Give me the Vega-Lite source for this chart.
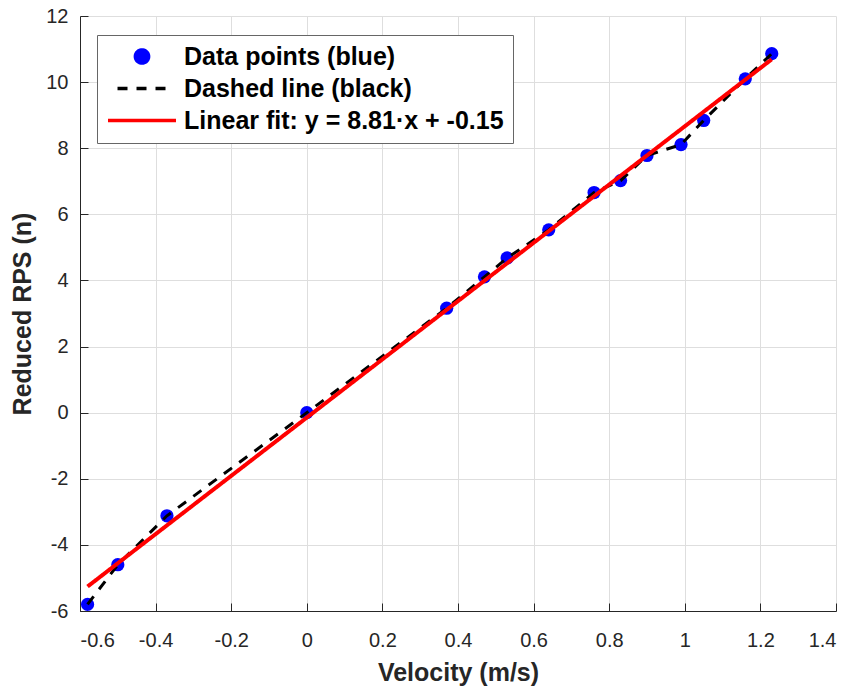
{
  "$schema": "https://vega.github.io/schema/vega-lite/v6.json",
  "width": 756,
  "height": 595,
  "autosize": "none",
  "padding": {"left": 80, "top": 16, "right": 19, "bottom": 78},
  "background": "white",
  "config": {
    "view": {"stroke": null},
    "font": "Liberation Sans",
    "axis": {
      "labelFont": "Liberation Sans",
      "labelFontSize": 20,
      "labelColor": "#262626",
      "titleFont": "Liberation Sans",
      "titleFontSize": 25,
      "titleFontWeight": "bold",
      "titleColor": "#262626",
      "domainColor": "#262626",
      "domainWidth": 1,
      "tickColor": "#262626",
      "tickWidth": 1,
      "tickSize": -8,
      "gridColor": "#dedede",
      "gridWidth": 1
    },
    "legend": {
      "orient": "none",
      "legendX": 17,
      "legendY": 19,
      "clipHeight": 25,
      "labelFont": "Liberation Sans",
      "labelFontWeight": "bold",
      "labelFontSize": 25,
      "labelColor": "#000000",
      "labelOffset": 6,
      "labelLimit": 0,
      "fillColor": "#ffffff",
      "strokeColor": "#666666",
      "padding": 9,
      "rowPadding": 6,
      "symbolOpacity": 1,
      "symbolStrokeWidth": 3.5
    }
  },
  "datasets": {
    "pts": [
      {"x": -0.58, "y": -5.8},
      {"x": -0.5, "y": -4.6},
      {"x": -0.37, "y": -3.12},
      {"x": 0.0, "y": 0.0},
      {"x": 0.37, "y": 3.16},
      {"x": 0.47, "y": 4.11},
      {"x": 0.53, "y": 4.68},
      {"x": 0.64, "y": 5.53},
      {"x": 0.76, "y": 6.66},
      {"x": 0.83, "y": 7.02},
      {"x": 0.9, "y": 7.78},
      {"x": 0.99, "y": 8.11},
      {"x": 1.05, "y": 8.84},
      {"x": 1.16, "y": 10.1},
      {"x": 1.23, "y": 10.86}
    ],
    "fit": [
      {"x": -0.58, "y": -5.26},
      {"x": 1.23, "y": 10.69}
    ]
  },
  "layer": [
    {
      "data": {"name": "pts"},
      "mark": {"type": "point", "filled": true, "opacity": 1},
      "encoding": {
        "x": {
          "field": "x", "type": "quantitative",
          "scale": {"domain": [-0.6, 1.4], "nice": false, "zero": false},
          "axis": {
            "title": "Velocity (m/s)",
            "values": [-0.6, -0.4, -0.2, 0, 0.2, 0.4, 0.6, 0.8, 1, 1.2, 1.4],
            "labelExpr": "'' + datum.value",
            "labelPadding": 27,
            "titlePadding": 10
          }
        },
        "y": {
          "field": "y", "type": "quantitative",
          "scale": {"domain": [-6, 12], "nice": false, "zero": false},
          "axis": {
            "title": "Reduced RPS (n)",
            "values": [-6, -4, -2, 0, 2, 4, 6, 8, 10, 12],
            "labelExpr": "'' + datum.value",
            "labelPadding": 20,
            "titlePadding": 10
          }
        },
        "color": {
          "datum": "Data points (blue)",
          "type": "nominal",
          "scale": {
            "domain": ["Data points (blue)", "Dashed line (black)", "Linear fit: y = 8.81·x + -0.15"],
            "range": ["#0000ff", "#000000", "#ff0000"]
          },
          "legend": {"title": null}
        },
        "shape": {
          "datum": "Data points (blue)",
          "type": "nominal",
          "scale": {
            "domain": ["Data points (blue)", "Dashed line (black)", "Linear fit: y = 8.81·x + -0.15"],
            "range": ["circle", "stroke", "stroke"]
          },
          "legend": {"title": null}
        },
        "size": {
          "datum": "Data points (blue)",
          "type": "nominal",
          "scale": {
            "domain": ["Data points (blue)", "Dashed line (black)", "Linear fit: y = 8.81·x + -0.15"],
            "range": [175, 4624, 4624]
          },
          "legend": {"title": null}
        }
      }
    },
    {
      "data": {"name": "pts"},
      "mark": {"type": "line", "strokeWidth": 3},
      "encoding": {
        "x": {"field": "x", "type": "quantitative"},
        "y": {"field": "y", "type": "quantitative"},
        "color": {"datum": "Dashed line (black)", "type": "nominal"},
        "strokeDash": {
          "datum": "Dashed line (black)",
          "type": "nominal",
          "scale": {
            "domain": ["Data points (blue)", "Dashed line (black)", "Linear fit: y = 8.81·x + -0.15"],
            "range": [[1, 0], [10, 9], [1, 0]]
          },
          "legend": {"title": null}
        }
      }
    },
    {
      "data": {"name": "fit"},
      "mark": {"type": "line", "strokeWidth": 4},
      "encoding": {
        "x": {"field": "x", "type": "quantitative"},
        "y": {"field": "y", "type": "quantitative"},
        "color": {"datum": "Linear fit: y = 8.81·x + -0.15", "type": "nominal"},
        "strokeDash": {"datum": "Linear fit: y = 8.81·x + -0.15", "type": "nominal"}
      }
    }
  ]
}
